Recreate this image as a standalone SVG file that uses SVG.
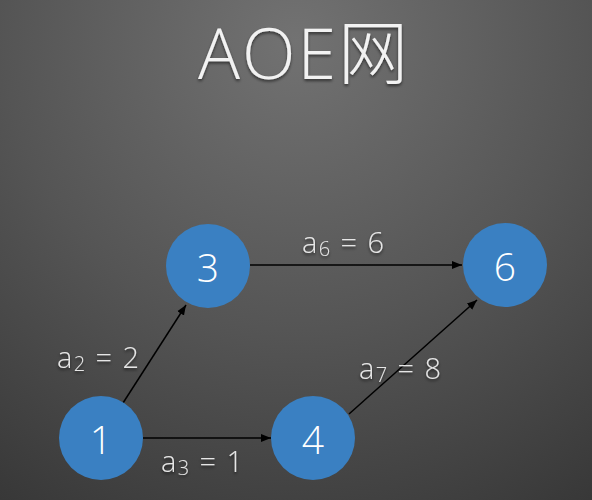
<svg xmlns="http://www.w3.org/2000/svg" width="592" height="500" viewBox="0 0 592 500">
  <defs>
    <radialGradient id="bg" cx="296" cy="40" r="580" gradientUnits="userSpaceOnUse">
      <stop offset="0" stop-color="#727272"/>
      <stop offset="0.5" stop-color="#555555"/>
      <stop offset="1" stop-color="#343434"/>
    </radialGradient>
    <filter id="shadow" x="-10%" y="-10%" width="120%" height="130%">
      <feDropShadow dx="0" dy="2" stdDeviation="1.5" flood-color="#000" flood-opacity="0.55"/>
    </filter>
    <marker id="arrow" viewBox="0 0 10 10" refX="10" refY="5" markerWidth="10" markerHeight="10" markerUnits="userSpaceOnUse" orient="auto">
      <path d="M0,1 L10,5 L0,9 Z" fill="#000"/>
    </marker>
  </defs>
  <style>
    .title { font-family: "Open Sans", "Noto Sans CJK SC", sans-serif; font-weight: 300; font-size: 70px; letter-spacing: 2px; fill: #f2f2f2; }
    .node circle { fill: #3a80c2; }
    .node text { font-family: "Open Sans", "Liberation Sans", sans-serif; font-weight: 300; font-size: 39px; fill: #ffffff; text-anchor: middle; }
    .edge { stroke: #000; stroke-width: 1.5; fill: none; marker-end: url(#arrow); }
    .lbl { font-family: "Open Sans", "Liberation Sans", sans-serif; font-weight: 300; font-size: 29px; letter-spacing: 1.4px; fill: #e6e6e6; }
    .sub { font-size: 20px; }
  </style>

  <rect width="592" height="500" fill="url(#bg)"/>

  <text class="title" x="304" y="79" text-anchor="middle" filter="url(#shadow)">AOE网</text>

  <g id="connectors">
    <line class="edge" x1="123" y1="403" x2="186" y2="305"/>
    <line class="edge" x1="250" y1="265" x2="462" y2="265"/>
    <line class="edge" x1="143" y1="438" x2="271" y2="438"/>
    <line class="edge" x1="349" y1="414" x2="477" y2="300"/>
  </g>

  <g id="labels" filter="url(#shadow)">
    <text class="lbl" x="57" y="368">a<tspan class="sub" dy="3">2</tspan><tspan dy="-3"> = 2</tspan></text>
    <text class="lbl" x="302" y="253">a<tspan class="sub" dy="3">6</tspan><tspan dy="-3"> = 6</tspan></text>
    <text class="lbl" x="161" y="472">a<tspan class="sub" dy="3">3</tspan><tspan dy="-3"> = 1</tspan></text>
    <text class="lbl" x="359" y="379">a<tspan class="sub" dy="3">7</tspan><tspan dy="-3"> = 8</tspan></text>
  </g>

  <g id="node-1" class="node">
    <circle cx="101" cy="438" r="42"/>
    <text x="101" y="454">1</text>
  </g>
  <g id="node-3" class="node">
    <circle cx="208" cy="266" r="42"/>
    <text x="208" y="282">3</text>
  </g>
  <g id="node-4" class="node">
    <circle cx="313" cy="438" r="42"/>
    <text x="313" y="454">4</text>
  </g>
  <g id="node-6" class="node">
    <circle cx="505" cy="265" r="42"/>
    <text x="505" y="281">6</text>
  </g>
</svg>
